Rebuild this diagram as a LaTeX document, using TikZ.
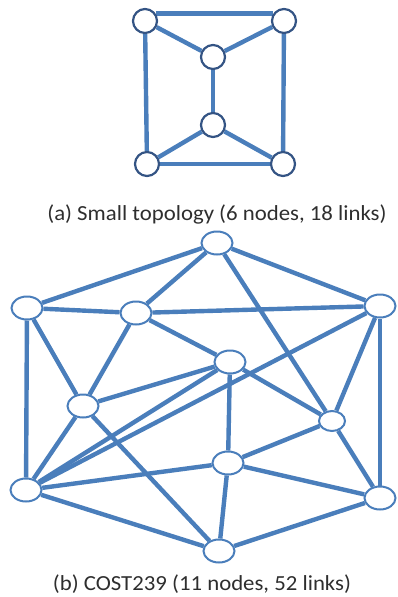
\documentclass[tikz,border=0pt]{standalone}
\usepackage{fontspec}
\setmainfont{Carlito}
\newfontfamily\capfont[FakeStretch=1.06]{Carlito}
\usetikzlibrary{shapes.geometric,backgrounds}
\definecolor{edgeblue}{RGB}{74,126,187}
\definecolor{nodeblue}{RGB}{52,84,132}
\tikzset{
  link/.style={draw=edgeblue, line width=4.4pt},
  cnode/.style={circle, draw=nodeblue, line width=2.2pt, fill=white, minimum size=24pt, inner sep=0pt},
  enode/.style={ellipse, draw=edgeblue, line width=2pt, fill=white, minimum width=31pt, minimum height=23pt, inner sep=0pt},
  snode/.style={enode, minimum width=26pt, minimum height=20pt},
  captext/.style={font=\capfont\fontsize{21.5}{24}\selectfont, text=black!82, inner sep=0pt}
}
\begin{document}
\begin{tikzpicture}[x=1pt,y=-1pt]
\useasboundingbox (0,0) rectangle (398,597);
% small topology
\node[cnode] (tl) at (145,21) {};
\node[cnode] (tr) at (284,21) {};
\node[cnode] (m1) at (213,57) {};
\node[cnode] (m2) at (213,125) {};
\node[cnode] (bl) at (147,164) {};
\node[cnode] (br) at (283,164) {};
\begin{scope}[on background layer]
\draw[link] (tl.35) -- (tr.145);
\draw[link] (tl) -- (m1);
\draw[link] (tr) -- (m1);
\draw[link] (m1) -- (m2);
\draw[link] (m2) -- (bl);
\draw[link] (m2) -- (br);
\draw[link] (bl) -- (br);
\draw[link] (tl) -- (bl);
\draw[link] (tr) -- (br);
\end{scope}
\node[captext] (capa) at (217,214) {(a) Small topology (6 nodes, 18 links)};
% COST239
\node[enode] (A) at (217,243) {};
\node[enode] (B) at (27,308) {};
\node[enode] (C) at (136,313) {};
\node[enode] (D) at (380,306) {};
\node[enode] (E) at (230,362) {};
\node[enode] (F) at (83,406) {};
\node[snode] (G) at (332,421) {};
\node[enode] (H) at (228,463) {};
\node[enode] (I) at (26,490) {};
\node[enode] (J) at (380,498) {};
\node[enode] (K) at (219,551) {};
\begin{scope}[on background layer]
\foreach \u/\v in {A/B,A/C,A/D,A/G,B/C,B/I,B/F,C/D,C/E,C/F,D/J,D/G,D/I,E/F,E/H,E/G,E/I,F/K,F/I,G/H,G/J,H/I,H/J,H/K,I/K,J/K}
  \draw[link] (\u) -- (\v);
\end{scope}
\node[captext] (capb) at (202,584) {(b) COST239 (11 nodes, 52 links)};
\end{tikzpicture}
\end{document}
